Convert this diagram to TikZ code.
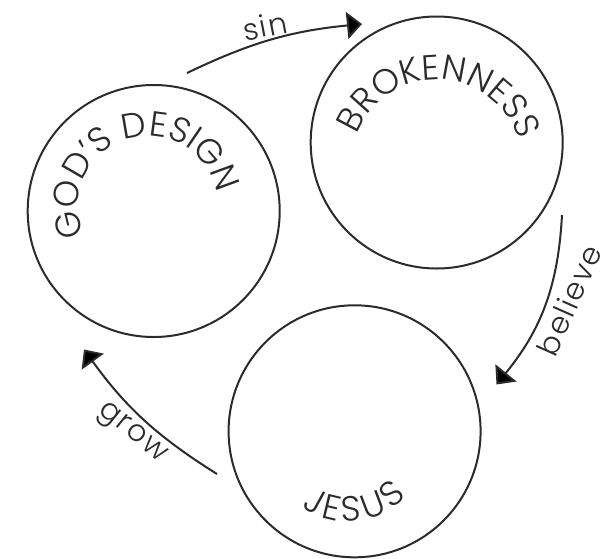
\documentclass[tikz,border=0pt]{standalone}
\usepackage{fontspec}
\setmainfont{Poppins}[UprightFont=* Light]
\newfontfamily\lblfamily{Poppins}[UprightFont=* Light, LetterSpace=6]
\usetikzlibrary{arrows.meta, decorations.text}
\definecolor{ink}{HTML}{2B2B2B}
\newcommand\capfont{\fontsize{35}{35}\selectfont}
\begin{document}
\begin{tikzpicture}[x=1pt,y=1pt,
  ring/.style={circle, draw=ink, line width=2pt, minimum size=252pt, inner sep=0pt},
  arctext/.style={decorate, decoration={text along path, text={|\capfont|#1}, text align=fit to path, text color=ink}},
  lbl/.style={text=ink, font=\lblfamily\fontsize{30}{30}\selectfont, inner sep=0pt},
  arr/.style={draw=ink, line width=2pt, -{Triangle[length=15pt, width=27pt]}}]
\useasboundingbox (0,0) rectangle (614,-558);
% circles
\node[ring] (gd) at (153.7,-211) {};
\node[ring] (br) at (436.7,-142.5) {};
\node[ring] (js) at (354.6,-431.3) {};
% text arc centres
\coordinate (gdc) at (148,-206);
\coordinate (brc) at (437,-165);
\coordinate (jsc) at (348,-440);
% curved titles
\path[arctext={GOD’S DESIGN}] (gdc) ++(205:70pt) arc[start angle=205, end angle=15, radius=70pt];
\path[arctext={BROKENNESS}] (brc) ++(159:85.5pt) arc[start angle=159, end angle=18, radius=85.5pt];
\path[arctext={JESUS}] (jsc) ++(235:81.5pt) arc[start angle=235, end angle=316, radius=81.5pt];
% connectors
\coordinate (sinS) at (187,-73);
\coordinate (sinE) at (362,-24);
\coordinate (belS) at (562,-215);
\coordinate (belE) at (496.5,-384.5);
\coordinate (groS) at (217,-474);
\coordinate (groE) at (84,-349.5);
\draw[arr] (sinS) to[bend left=10] (sinE);
\draw[arr] (belS) to[bend left=18] (belE);
\draw[arr] (groS) to[bend left=11] (groE);
% labels
\node[lbl, rotate=11] (sinL) at (265,-26) {sin};
\node[lbl, rotate=66] (belL) at (569,-300) {believe};
\node[lbl, rotate=-39] (groL) at (131.5,-434) {grow};
\end{tikzpicture}
\end{document}
